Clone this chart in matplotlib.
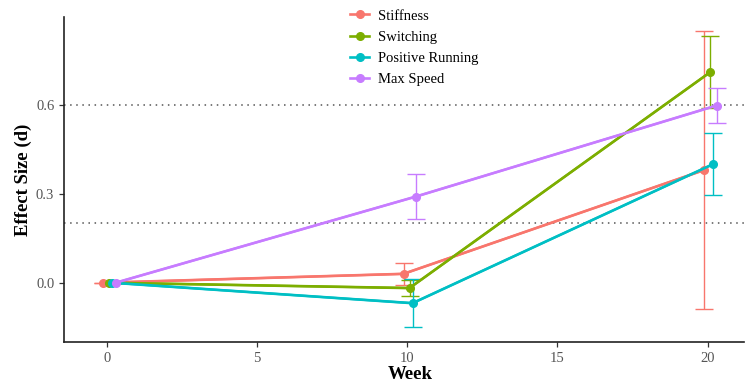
import matplotlib
matplotlib.use("Agg")
import matplotlib.pyplot as plt
import numpy as np

weeks = [0, 10, 20]
series = ["Stiffness", "Switching", "Positive Running", "Max Speed"]
means = {
    "Stiffness":        [0.0, 0.030, 0.380],
    "Switching":        [0.0, -0.018, 0.710],
    "Positive Running": [0.0, -0.069, 0.400],
    "Max Speed":        [0.0, 0.291, 0.598],
}
errs = {
    "Stiffness":        [0.0, 0.038, 0.468],
    "Switching":        [0.0, 0.028, 0.122],
    "Positive Running": [0.0, 0.080, 0.105],
    "Max Speed":        [0.0, 0.075, 0.060],
}
ref_lines = [0.2, 0.6]
yticks = [0.0, 0.3, 0.6]
xticks = [0, 5, 10, 15, 20]

colors = ["#F8766D", "#7CAE00", "#00BFC4", "#C77CFF"]
offsets = [-0.12, 0.08, 0.18, 0.3]

plt.rcParams['font.family'] = ['Liberation Serif', 'DejaVu Serif']

fig = plt.figure(figsize=(7.46, 3.82), dpi=100)
ax = fig.add_axes([0.0858, 0.1047, 0.911, 0.851])

for yl in ref_lines:
    ax.axhline(yl, color="#555555", linestyle=(0, (1, 3)), linewidth=1.1, zorder=1)

handles = []
for name, c, off in zip(series, colors, offsets):
    x = np.array(weeks) + off
    ax.errorbar(x, means[name], yerr=errs[name], color=c, linewidth=1.6,
                elinewidth=1.0, capsize=6.5, capthick=1.0, zorder=3)
    h, = ax.plot(x, means[name], color=c, linewidth=1.9, marker="o",
                 markersize=5.5, zorder=4, label=name)
    handles.append(h)

ax.set_xlim(-1.42, 21.2)
ax.set_ylim(-0.2, 0.897)
ax.set_xticks(xticks)
ax.set_yticks(yticks)
ax.set_yticklabels([f"{v:.1f}" for v in yticks])
for s in ["top", "right"]:
    ax.spines[s].set_visible(False)
for s in ["left", "bottom"]:
    ax.spines[s].set_linewidth(1.2)
    ax.spines[s].set_color("#222222")
ax.tick_params(axis="both", labelsize=10.5, labelcolor="#555555", length=3.5,
               width=0.9, color="#333333")

ax.set_xlabel("Week", fontsize=13.5, fontweight="bold", labelpad=1)
ax.xaxis.set_label_coords(0.51, -0.075)
ax.set_ylabel("Effect Size (d)", fontsize=13.5, fontweight="bold", labelpad=3)

leg = fig.legend(handles=handles, loc="upper left", bbox_to_anchor=(0.452, 1.01),
                 frameon=False, fontsize=10.5, handlelength=1.3, handletextpad=0.6,
                 labelspacing=0.55)

fig.savefig("out.png", dpi=100)
